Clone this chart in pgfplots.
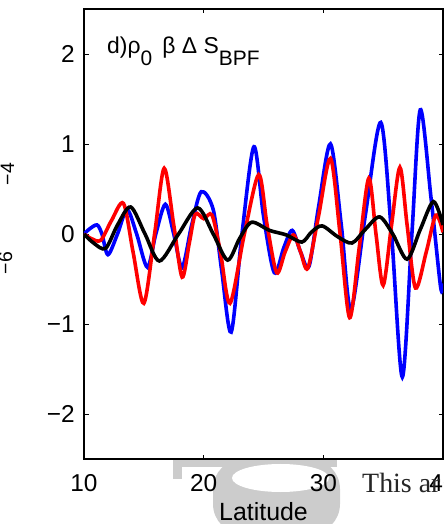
\documentclass[border=0pt]{standalone}
\usepackage{pgfplots}
\pgfplotsset{compat=1.18}
\usepackage{fontspec}
\setmainfont{Liberation Sans}
\newfontfamily\seriffont{Liberation Serif}
\begin{document}
\begin{tikzpicture}[x=1bp,y=1bp]
% light gray watermark fragments below the axis
\fill[gray!40] (89,0) rectangle (98,-20);
\fill[gray!40] (89,0) rectangle (253,-8);
\fill[gray!40, rounded corners=30bp] (129,0) rectangle (256,-75);
\fill[white] (196.5,-19) ellipse [x radius=48.5, y radius=14];
\begin{axis}[
  at={(0,0)}, anchor=south west, scale only axis,
  width=359bp, height=450bp,
  xmin=10, xmax=40, ymin=-2.5, ymax=2.5,
  xtick={10,20,30,40}, xticklabels={10,20,30,40},
  ytick={-2,-1,0,1,2}, yticklabels={−2,−1,0,1,2},
  tick align=inside, major tick length=4.5bp,
  axis line style={line width=1.1pt},
  every tick/.style={line width=0.9pt, black},
  ticklabel style={font=\fontsize{24.5}{29}\selectfont},
  xticklabel style={anchor=north, inner sep=0pt, yshift=-15bp},
  yticklabel style={anchor=east, inner sep=0pt, xshift=-9bp},
  xlabel={Latitude},
  xlabel style={font=\fontsize{25}{30}\selectfont, at={(axis description cs:0.5,0)}, anchor=base, inner sep=0pt, yshift=-61bp},
  every axis plot/.append style={line width=3.6bp, smooth},
]
\addplot[blue] coordinates {
(10.0,0) (10.5,0.06) (11.1,0.10) (11.5,0.0) (12.0,-0.23) (12.8,0.0) (13.6,0.27)
(14.4,0.0) (15.3,-0.37) (16.0,0.0) (16.8,0.33) (17.5,0.0) (18.2,-0.37) (19.0,0.1)
(19.8,0.47) (20.8,0.27) (21.5,-0.4) (22.3,-1.09) (23.2,0.0) (24.2,0.97) (25.0,0.2)
(25.9,-0.43) (26.7,-0.15) (27.4,0.04) (28.1,-0.2) (28.8,-0.36) (29.6,0.3) (30.6,1.0)
(31.5,0.1) (32.3,-0.84) (33.5,0.2) (34.8,1.24) (35.7,0.0) (36.6,-1.59) (37.4,0.0)
(38.1,1.38) (39.0,0.4) (39.8,-0.59) (40.0,-0.55)
};
\addplot[red] coordinates {
(10.0,0) (10.6,-0.05) (11.4,-0.07) (12.3,0.15) (13.3,0.34) (14.1,-0.2) (15.0,-0.77)
(15.9,0.0) (16.7,0.73) (17.5,0.1) (18.2,-0.48) (18.8,-0.1) (19.3,0.22) (20.0,0.17)
(20.7,0.21) (21.4,-0.2) (22.2,-0.77) (23.4,0.0) (24.6,0.66) (25.3,0.1) (26.1,-0.43)
(26.8,-0.2) (27.5,-0.01) (28.1,-0.2) (28.7,-0.38) (29.6,0.2) (30.6,0.84) (31.4,0.0)
(32.2,-0.93) (33.0,-0.15) (33.8,0.62) (34.4,0.0) (35.0,-0.57) (35.7,0.1) (36.4,0.74)
(37.0,0.1) (37.7,-0.6) (38.6,-0.2) (39.4,0.21) (40.0,0.02)
};
\addplot[black] coordinates {
(10.0,0) (10.8,-0.1) (11.8,-0.16) (12.8,0.1) (13.9,0.3) (15.1,0.0) (16.3,-0.3)
(17.9,0.0) (19.5,0.29) (20.8,0.0) (22.0,-0.29) (23.0,-0.05) (24.0,0.13) (25.5,0.04)
(26.9,-0.01) (28.2,-0.09) (29.0,0.02) (29.9,0.09) (31.2,-0.03) (32.4,-0.1) (33.5,0.05)
(34.7,0.19) (35.8,0.0) (37.0,-0.28) (38.1,0.05) (39.2,0.36) (40.0,0.1)
};
\node[anchor=base west, inner sep=0pt, font=\fontsize{23}{28}\selectfont]
  at (axis description cs:0.064,0.902)
  {d)ρ\raisebox{-12bp}{\fontsize{21}{25}\selectfont 0}\, β Δ S\raisebox{-12bp}{\fontsize{21}{25}\selectfont BPF}};
\end{axis}
\node[anchor=base west, inner sep=0pt, font=\seriffont\fontsize{28}{32}\selectfont, text=black!85] at (278,-33) {This ar};
\node[rotate=90, inner sep=0pt, font=\fontsize{19.5}{23}\selectfont] at (-76.5,285) {−4};
\node[rotate=90, inner sep=0pt, font=\fontsize{19.5}{23}\selectfont] at (-78.5,196) {−6};
\pgfresetboundingbox
\path[use as bounding box] (-84,-65) rectangle (360,459);
\end{tikzpicture}
\end{document}
